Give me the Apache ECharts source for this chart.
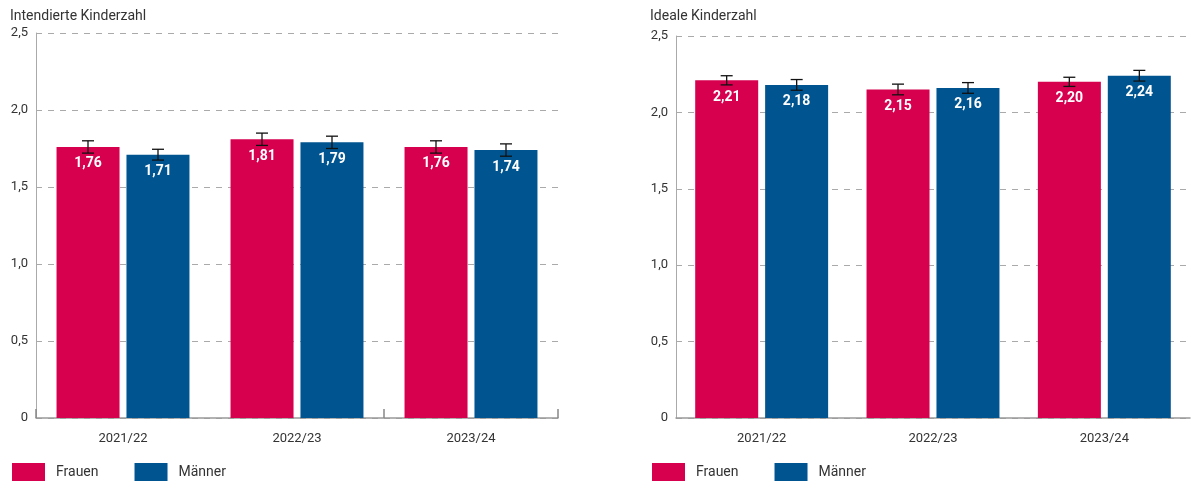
<!DOCTYPE html>
<html><head><meta charset="utf-8">
<script src="https://cdn.jsdelivr.net/npm/echarts@6/dist/echarts.min.js"></script>
<style>html,body{margin:0;padding:0;background:#fff}#c{width:1192px;height:481px}</style>
</head><body><div id="c"></div>
<script>
const categories = ['2021/22', '2022/23', '2023/24'];
const seriesNames = ['Frauen', 'Männer'];
const intendedWomen = [1.76, 1.81, 1.76];
const intendedMen = [1.71, 1.79, 1.74];
const intendedWomenErr = [0.04, 0.04, 0.04];
const intendedMenErr = [0.035, 0.04, 0.04];
const idealWomen = [2.21, 2.15, 2.20];
const idealMen = [2.18, 2.16, 2.24];
const idealWomenErr = [0.03, 0.035, 0.03];
const idealMenErr = [0.035, 0.035, 0.035];
const yTicks = [0, 0.5, 1.0, 1.5, 2.0, 2.5];
const titles = ['Intendierte Kinderzahl', 'Ideale Kinderzahl'];

const RED = '#d6004f', BLUE = '#005490';
const FONT = 'Roboto, "DejaVu Sans", sans-serif';
const fmt = v => v === 0 ? '0' : v.toFixed(1).replace('.', ',');
const fmt2 = v => v.toFixed(2).replace('.', ',');

const chart = echarts.init(document.getElementById('c'));

function yAxis(gi) {
  return {
    gridIndex: gi, type: 'value', min: yTicks[0], max: yTicks[yTicks.length - 1], interval: 0.5,
    axisLine: {show: true, lineStyle: {color: '#aaa', width: 1}},
    axisTick: {show: false},
    axisLabel: {formatter: fmt, color: '#333', fontSize: 13, fontFamily: FONT, margin: 8},
    splitLine: {show: true, lineStyle: {color: '#aaa', type: [6, 6], width: 1}}
  };
}
function xAxis(gi, ticks) {
  return {
    gridIndex: gi, type: 'category', data: categories,
    axisLine: {show: true, lineStyle: {color: '#999', width: 1.5}},
    axisTick: ticks ? {show: true, length: 9, inside: true, lineStyle: {color: '#888', width: 1.5},
      interval: (i) => i === 0 || i === 2} : {show: false},
    axisLabel: {color: '#333', fontSize: 13, fontFamily: FONT, margin: 14}
  };
}
function bars(name, data, color, ai, cg) {
  return {
    name, type: 'bar', xAxisIndex: ai, yAxisIndex: ai, data, barWidth: 63, barGap: '11%', barCategoryGap: cg,
    itemStyle: {color},
    label: {show: true, position: 'insideTop', distance: 10, color: '#fff', fontWeight: 'bold', fontSize: 14,
      fontFamily: FONT, formatter: p => fmt2(p.value)},
    z: 2
  };
}
function errBars(vals, errs, ai, seriesIdx) {
  return {
    type: 'custom', xAxisIndex: ai, yAxisIndex: ai, silent: true, z: 5,
    data: vals.map((v, i) => [i, v - errs[i], v + errs[i]]),
    renderItem: function (params, api) {
      const i = api.value(0);
      const lo = api.coord([i, api.value(1)]);
      const hi = api.coord([i, api.value(2)]);
      const bw = 63, gap = 7;
      const cx = lo[0] + (seriesIdx === 0 ? -(gap / 2 + bw / 2) : (gap / 2 + bw / 2));
      const hw = 6;
      const st = {stroke: '#111', lineWidth: 1.3};
      return {type: 'group', children: [
        {type: 'line', shape: {x1: cx, y1: lo[1], x2: cx, y2: hi[1]}, style: st},
        {type: 'line', shape: {x1: cx - hw, y1: lo[1], x2: cx + hw, y2: lo[1]}, style: st},
        {type: 'line', shape: {x1: cx - hw, y1: hi[1], x2: cx + hw, y2: hi[1]}, style: st}
      ]};
    }
  };
}

const legendBase = {
  itemWidth: 33, itemHeight: 18, itemGap: 36, icon: 'rect', top: 463, padding: 0,
  textStyle: {color: '#333', fontSize: 14, fontFamily: FONT, padding: [0, 0, 0, 6]},
  data: seriesNames
};

chart.setOption({
  animation: false,
  title: [
    {text: titles[0], left: 10, top: 9, padding: [0,0,0,0], textStyle: {fontSize: 14, fontWeight: 'normal', color: '#333', fontFamily: FONT}},
    {text: titles[1], left: 650, top: 9, padding: [0,0,0,0], textStyle: {fontSize: 14, fontWeight: 'normal', color: '#333', fontFamily: FONT}}
  ],
  legend: [
    Object.assign({}, legendBase, {left: 12}),
    Object.assign({}, legendBase, {left: 652})
  ],
  grid: [
    {left: 36, right: 634, top: 33, bottom: 63},
    {left: 676, right: 2, top: 36, bottom: 63}
  ],
  xAxis: [xAxis(0, true), xAxis(1, false)],
  yAxis: [yAxis(0), yAxis(1)],
  series: [
    bars(seriesNames[0], intendedWomen, RED, 0, '23.5%'),
    bars(seriesNames[1], intendedMen, BLUE, 0, '23.5%'),
    bars(seriesNames[0], idealWomen, RED, 1, '23.5%'),
    bars(seriesNames[1], idealMen, BLUE, 1, '23.5%'),
    errBars(intendedWomen, intendedWomenErr, 0, 0),
    errBars(intendedMen, intendedMenErr, 0, 1),
    errBars(idealWomen, idealWomenErr, 1, 0),
    errBars(idealMen, idealMenErr, 1, 1)
  ]
});
</script></body></html>
